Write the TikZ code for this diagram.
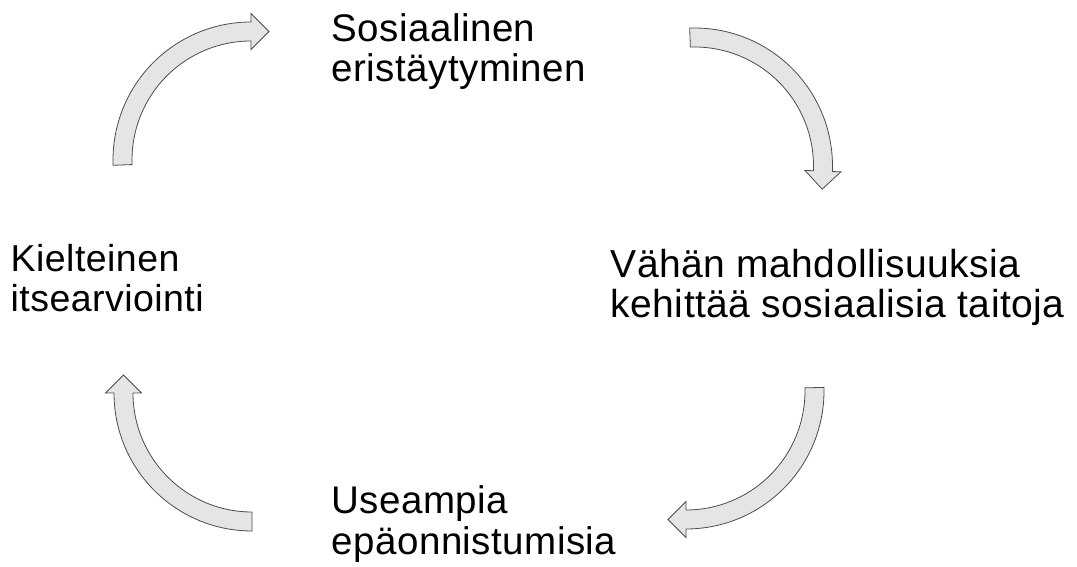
\documentclass[tikz,border=0pt]{standalone}
\usepackage{fontspec}
\setmainfont{Liberation Sans}[LetterSpace=1.2]
\usetikzlibrary{calc}
\tikzset{
  cyc/.style={fill=gray!20, draw=black!70, line width=0.8pt, line join=miter},
  lab/.style={anchor=base west, inner sep=0pt, font=\fontsize{39}{40}\selectfont},
  labm/.style={lab, font=\fontsize{38.5}{40}\selectfont},
  labs/.style={lab, font=\fontsize{37.5}{40}\selectfont}
}
% curved block arrow: centre, start angle, end angle (clockwise)
\newcommand\cyclearrow[3]{%
  \begin{scope}[shift={#1}]
    \pgfmathsetmacro\cycfwd{#3-90}
    \draw[cyc] (#2:138) arc[start angle=#2, end angle=#3, radius=138]
      -- (#3:146.5) -- ($(#3:128.5)+(\cycfwd:18)$) -- (#3:110.5) -- (#3:119)
      arc[start angle=#3, end angle=#2, radius=119] -- cycle;
  \end{scope}}
\begin{document}
\begin{tikzpicture}[x=1pt, y=1pt]
  \fill[white] (0,0) rectangle (1077,567);
  \useasboundingbox (0,0) rectangle (1077,567);

  % arrows
  \cyclearrow{(251,407)}{182.2}{90}
  \cyclearrow{(694.5,401)}{92}{-2.3}
  \cyclearrow{(686,176)}{1.5}{-90}
  \cyclearrow{(252,174)}{270}{180}

  % labels
  \node[labm] (top1) at (331.5,525.3) {Sosiaalinen};
  \node[labm] (top2) at (331.5,485.3) {eristäytyminen};
  \node[lab] (right1) at (610.5,289.7) {Vähän mahdollisuuksia};
  \node[lab] (right2) at (610.5,249.7) {kehittää sosiaalisia taitoja};
  \node[labm] (bot1) at (331.5,53.5) {Useampia};
  \node[labm] (bot2) at (331.5,12) {epäonnistumisia};
  \node[labs] (left1) at (10.5,295.3) {Kielteinen};
  \node[labs] (left2) at (10.5,255.3) {itsearviointi};
\end{tikzpicture}
\end{document}
